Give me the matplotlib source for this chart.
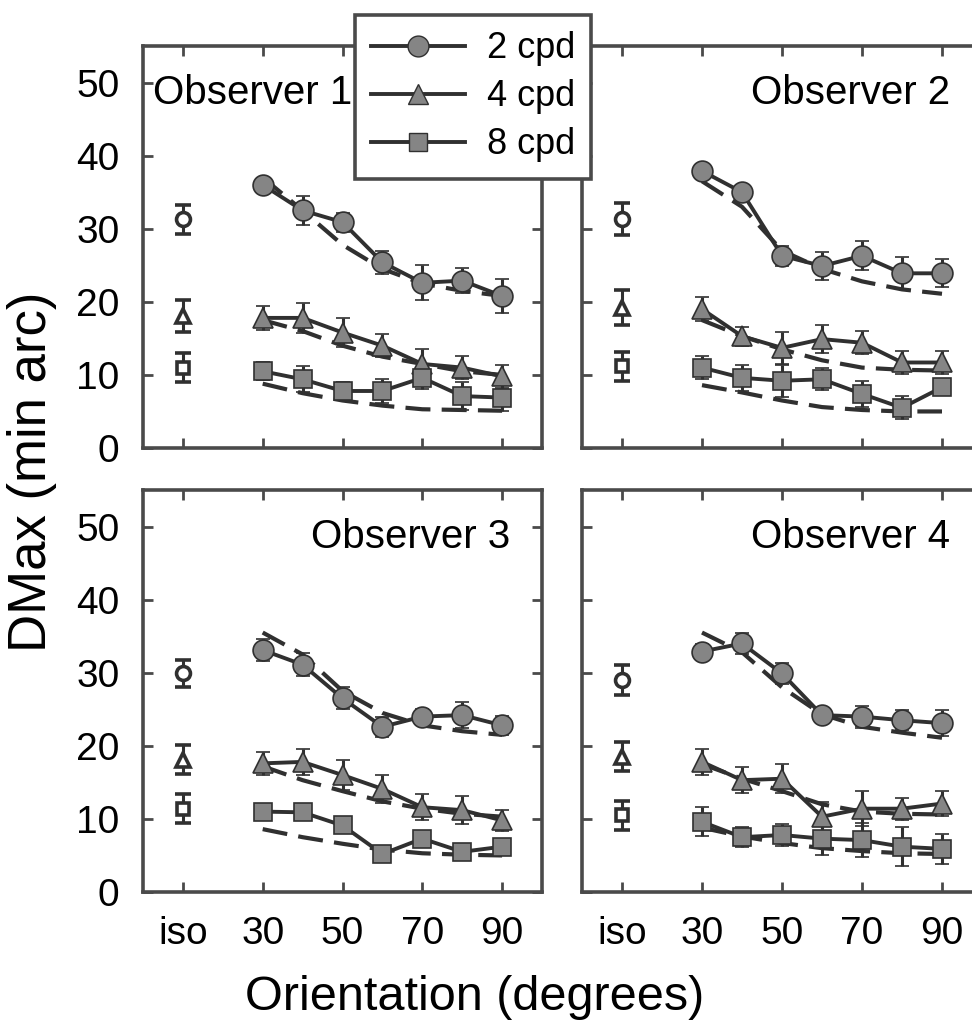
import matplotlib
matplotlib.use('Agg')
from matplotlib import pyplot as plt
from matplotlib.lines import Line2D

plt.rcParams['font.family'] = ['Liberation Sans', 'DejaVu Sans']

# orientation (deg); the isotropic condition sits at x = 10
orient = [30, 40, 50, 60, 70, 80, 90]
iso_x = 10
x_ticks = [10, 30, 50, 70, 90]
x_ticklabels = ['iso', '30', '50', '70', '90']
y_ticks = [0, 10, 20, 30, 40, 50]
observers = ['Observer 1', 'Observer 2', 'Observer 3', 'Observer 4']
freqs = ['2 cpd', '4 cpd', '8 cpd']

# measured DMax (min arc), per observer
obs1_2 = [36.0, 32.5, 30.9, 25.4, 22.6, 22.9, 20.8]
obs1_4 = [17.8, 17.8, 15.8, 14.0, 11.5, 11.0, 9.8]
obs1_8 = [10.5, 9.4, 7.8, 7.8, 9.6, 7.1, 6.9]
obs2_2 = [37.9, 35.0, 26.3, 24.9, 26.3, 23.9, 23.9]
obs2_4 = [19.0, 15.3, 13.7, 14.9, 14.4, 11.7, 11.7]
obs2_8 = [11.0, 9.6, 9.2, 9.4, 7.4, 5.5, 8.3]
obs3_2 = [33.1, 31.1, 26.5, 22.6, 24.0, 24.2, 22.8]
obs3_4 = [17.6, 17.8, 16.0, 14.1, 11.6, 11.2, 9.8]
obs3_8 = [11.0, 10.9, 9.1, 5.2, 7.3, 5.5, 6.2]
obs4_2 = [32.9, 34.0, 29.9, 24.2, 24.0, 23.5, 23.1]
obs4_4 = [17.8, 15.3, 15.5, 10.3, 11.4, 11.4, 12.1]
obs4_8 = [9.6, 7.5, 7.8, 7.3, 7.1, 6.2, 5.9]

# error bars
obs1_2_err = [1.0, 2.0, 1.3, 1.6, 2.4, 1.7, 2.3]
obs1_4_err = [1.6, 2.0, 2.0, 1.6, 2.0, 1.6, 1.6]
obs1_8_err = [1.2, 1.8, 1.2, 1.6, 1.5, 1.9, 1.8]
obs2_2_err = [1.0, 1.0, 1.4, 1.9, 2.0, 2.2, 1.9]
obs2_4_err = [1.6, 1.3, 2.2, 1.9, 1.6, 1.6, 1.6]
obs2_8_err = [1.6, 1.8, 2.2, 1.5, 1.8, 1.6, 1.0]
obs3_2_err = [1.5, 1.6, 1.5, 1.4, 1.0, 1.8, 1.3]
obs3_4_err = [1.6, 1.8, 2.0, 1.9, 1.8, 1.9, 1.4]
obs3_8_err = [0.8, 0.8, 1.0, 0.8, 1.0, 1.0, 1.0]
obs4_2_err = [1.0, 1.5, 1.4, 1.0, 1.5, 1.4, 1.8]
obs4_4_err = [1.8, 1.8, 2.0, 2.0, 2.4, 1.5, 1.7]
obs4_8_err = [2.0, 1.4, 1.5, 2.2, 2.3, 2.7, 2.1]

# model predictions (dashed)
fit1_2 = [37.0, 32.5, 27.8, 24.5, 22.5, 21.5, 20.8]
fit1_4 = [17.5, 16.0, 14.0, 12.5, 11.5, 10.5, 10.0]
fit1_8 = [8.8, 7.5, 6.5, 5.8, 5.3, 5.2, 5.1]
fit2_2 = [36.5, 33.0, 27.0, 24.5, 22.8, 21.7, 21.1]
fit2_4 = [17.5, 15.3, 13.5, 12.0, 11.0, 10.7, 10.6]
fit2_8 = [8.6, 7.6, 6.5, 5.6, 5.2, 5.0, 5.0]
fit3_2 = [35.5, 32.5, 27.5, 24.5, 22.8, 22.0, 21.5]
fit3_4 = [17.2, 15.3, 13.8, 12.4, 11.4, 10.7, 10.3]
fit3_8 = [8.6, 7.5, 6.6, 5.8, 5.3, 5.1, 5.0]
fit4_2 = [35.5, 32.8, 28.0, 24.3, 22.6, 21.8, 21.1]
fit4_4 = [17.5, 15.5, 13.8, 12.0, 11.0, 10.7, 10.6]
fit4_8 = [8.8, 7.6, 6.7, 6.0, 5.6, 5.3, 5.2]

# isotropic condition (open symbols): 2, 4, 8 cpd
iso1 = [31.3, 18.1, 11.0]
iso2 = [31.3, 19.2, 11.2]
iso3 = [29.9, 18.1, 11.4]
iso4 = [29.0, 18.5, 10.5]
iso1_err = [2.0, 2.2, 2.0]
iso2_err = [2.2, 2.4, 2.0]
iso3_err = [1.8, 2.0, 2.0]
iso4_err = [2.0, 2.0, 2.0]

data = [
    ([obs1_2, obs1_4, obs1_8], [obs1_2_err, obs1_4_err, obs1_8_err], [fit1_2, fit1_4, fit1_8], iso1, iso1_err),
    ([obs2_2, obs2_4, obs2_8], [obs2_2_err, obs2_4_err, obs2_8_err], [fit2_2, fit2_4, fit2_8], iso2, iso2_err),
    ([obs3_2, obs3_4, obs3_8], [obs3_2_err, obs3_4_err, obs3_8_err], [fit3_2, fit3_4, fit3_8], iso3, iso3_err),
    ([obs4_2, obs4_4, obs4_8], [obs4_2_err, obs4_4_err, obs4_8_err], [fit4_2, fit4_4, fit4_8], iso4, iso4_err),
]

markers = ['o', '^', 's']
msizes = [15, 14, 13]
iso_msizes = [10, 10, 9]
fill = '#858585'
dark = '#303030'
frame = '#4a4a4a'

W, H = 972, 1031
fig = plt.figure(figsize=(W / 100, H / 100), dpi=100)

# panel boxes in pixels: (left, top, right, bottom)
boxes = [(143, 46, 542, 448), (582, 46, 982, 448),
         (143, 490, 542, 892), (582, 490, 982, 892)]

for i, (box, obs) in enumerate(zip(boxes, data)):
    l, t, r, b = box
    ax = fig.add_axes([l / W, 1 - b / H, (r - l) / W, (b - t) / H])
    means, errs, fits, iso, iso_err = obs

    for k in range(3):
        ax.plot(orient, fits[k], linestyle=(0, (6, 2.7)), color=dark, lw=3, zorder=2)
        ax.errorbar(orient, means[k], yerr=errs[k], color=dark, lw=2.8,
                    marker=markers[k], ms=msizes[k], mfc=fill, mec=dark, mew=1.2,
                    ecolor=dark, elinewidth=2.2, capsize=5, capthick=2.8, zorder=3)
        ax.errorbar([iso_x], [iso[k]], yerr=[iso_err[k]], color=dark, linestyle='none',
                    marker=markers[k], ms=iso_msizes[k], mfc='white', mec=dark, mew=2.6,
                    ecolor=dark, elinewidth=2.2, capsize=6, capthick=2.8, zorder=3)

    ax.set_xlim(0, 100)
    ax.set_ylim(0, 55)
    ax.set_xticks(x_ticks)
    ax.set_yticks(y_ticks)
    ax.tick_params(direction='in', length=7, width=2, color=frame,
                   top=True, right=True, labelsize=28)
    ax.tick_params(axis='y', pad=17)
    ax.tick_params(axis='x', pad=17)
    if i < 2:
        ax.set_xticklabels([])
    else:
        ax.set_xticklabels(x_ticklabels)
    if i % 2 == 1:
        ax.set_yticklabels([])
    for s in ax.spines.values():
        s.set_linewidth(2.6)
        s.set_color(frame)

    if i == 0:
        ax.text(0.025, 0.883, observers[i], transform=ax.transAxes,
                fontsize=29, ha='left', va='center')
    else:
        ax.text(0.92, 0.883, observers[i], transform=ax.transAxes,
                fontsize=29, ha='right', va='center')

fig.text(32 / W, 1 - 472 / H, 'DMax (min arc)', rotation=90, fontsize=38,
         ha='center', va='center')
fig.text(475 / W, 1 - 997 / H, 'Orientation (degrees)', fontsize=35,
         ha='center', va='center')

handles = [Line2D([], [], color=dark, lw=2.8, marker=markers[k], ms=msizes[k],
                  mfc=fill, mec=dark) for k in range(3)]
leg = fig.legend(handles, freqs, loc='upper left', bbox_to_anchor=(355 / W, 1 - 15 / H),
                 borderaxespad=0, fontsize=26, frameon=True, fancybox=False,
                 framealpha=1, edgecolor=frame, handlelength=2.6,
                 handletextpad=0.6, labelspacing=0.36, borderpad=0.45)
leg.get_frame().set_linewidth(2.6)

plt.savefig('out.png', dpi=100)
